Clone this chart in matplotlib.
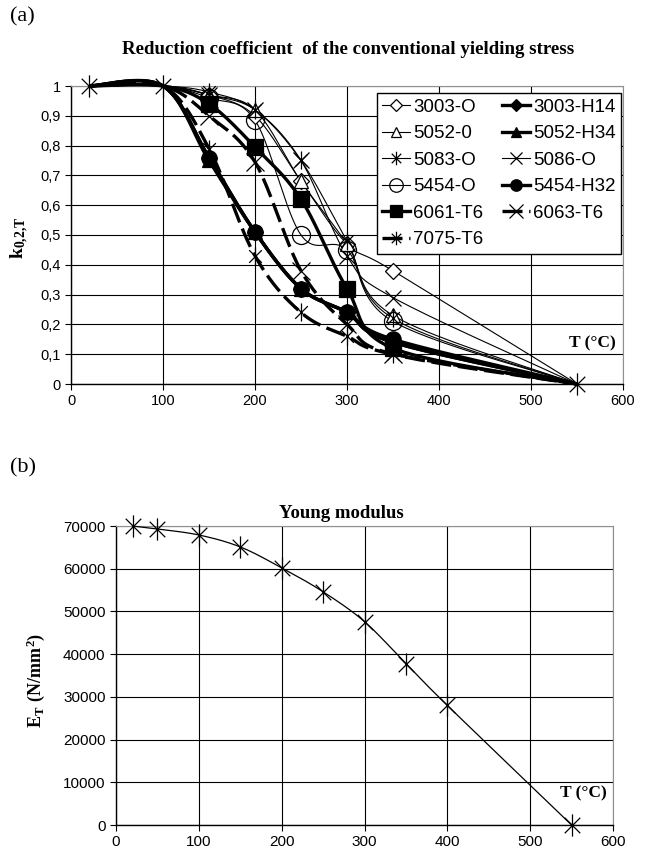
import matplotlib
matplotlib.use("Agg")
import matplotlib.pyplot as plt
from matplotlib.path import Path
from matplotlib.ticker import FuncFormatter, MultipleLocator
import numpy as np

plt.rcParams['font.family'] = ['Liberation Sans', 'DejaVu Sans']
plt.rcParams['mathtext.fontset'] = 'custom'
plt.rcParams['mathtext.rm'] = 'Liberation Serif'
plt.rcParams['mathtext.bf'] = 'Liberation Serif:bold'

# ----------------------- Data --------------------------
temps = [20, 100, 150, 200, 250, 300, 350, 550]
alloys = ['3003-O', '3003-H14', '5052-0', '5052-H34', '5083-O', '5086-O',
          '5454-O', '5454-H32', '6061-T6', '6063-T6', '7075-T6']
k_3003_O = [1, 1, 0.97, 0.90, 0.68, 0.47, 0.38, 0]
k_3003_H14 = [1, 1, 0.76, 0.51, 0.32, 0.24, 0.14, 0]
k_5052_0 = [1, 1, 0.97, 0.92, 0.68, 0.47, 0.23, 0]
k_5052_H34 = [1, 1, 0.75, 0.51, 0.32, 0.24, 0.14, 0]
k_5083_O = [1, 1, 0.98, 0.92, 0.75, 0.48, 0.22, 0]
k_5086_O = [1, 1, 0.97, 0.92, 0.75, 0.43, 0.29, 0]
k_5454_O = [1, 1, 0.96, 0.885, 0.50, 0.45, 0.21, 0]
k_5454_H32 = [1, 1, 0.76, 0.51, 0.32, 0.24, 0.15, 0]
k_6061_T6 = [1, 1, 0.94, 0.795, 0.62, 0.32, 0.12, 0]
k_6063_T6 = [1, 1, 0.90, 0.745, 0.38, 0.20, 0.10, 0]
k_7075_T6 = [1, 1, 0.79, 0.43, 0.24, 0.16, 0.10, 0]
k_values = [k_3003_O, k_3003_H14, k_5052_0, k_5052_H34, k_5083_O, k_5086_O,
            k_5454_O, k_5454_H32, k_6061_T6, k_6063_T6, k_7075_T6]

e_temps = [20, 50, 100, 150, 200, 250, 300, 350, 400, 550]
e_modulus = [70000, 69300, 67900, 65100, 60200, 54600, 47600, 37800, 28000, 0]

# asterisk marker: X with a vertical bar (Excel style)
star = Path([(-0.7, -0.7), (0.7, 0.7), (-0.7, 0.7), (0.7, -0.7), (0, -1), (0, 1)],
            [Path.MOVETO, Path.LINETO, Path.MOVETO, Path.LINETO, Path.MOVETO, Path.LINETO])

thin, thick = 0.8, 2.4
styles = [
    dict(marker='D', ms=8, mfc='white', lw=thin, ls='-'),
    dict(marker='D', ms=8, mfc='black', lw=thick, ls='-'),
    dict(marker='^', ms=10, mfc='white', lw=thin, ls='-'),
    dict(marker='^', ms=10, mfc='black', lw=thick, ls='-'),
    dict(marker=star, ms=13, mfc='none', lw=thin, ls='-'),
    dict(marker='x', ms=12, mfc='none', lw=thin, ls='-'),
    dict(marker='o', ms=13, mfc='none', lw=thin, ls='-'),
    dict(marker='o', ms=11, mfc='black', lw=thick, ls='-'),
    dict(marker='s', ms=12, mfc='black', lw=thick, ls='-'),
    dict(marker='x', ms=13, mfc='none', lw=thick, ls=(0, (6, 2))),
    dict(marker=star, ms=13, mfc='none', lw=thick, ls=(0, (6, 2))),
]


def smooth(x, y, n=24):
    # Excel-like smoothed line (Bezier through the points)
    pts = np.column_stack([x, y]).astype(float)
    P = np.vstack([pts[0], pts, pts[-1]])
    t = np.linspace(0, 1, n)[1:, None]
    out = [pts[:1]]
    for i in range(1, len(P) - 2):
        p0, p1, p2, p3 = P[i - 1], P[i], P[i + 1], P[i + 2]
        c1 = p1 + (p2 - p0) / 6
        c2 = p2 - (p3 - p1) / 6
        out.append((1 - t) ** 3 * p1 + 3 * (1 - t) ** 2 * t * c1
                   + 3 * (1 - t) * t ** 2 * c2 + t ** 3 * p2)
    out = np.vstack(out)
    return out[:, 0], out[:, 1]


def style_axes(ax):
    ax.grid(True, color='black', lw=0.8)
    ax.set_axisbelow(True)
    for s in ['top', 'right']:
        ax.spines[s].set_color('#909090')
        ax.spines[s].set_linewidth(0.8)
    for s in ['left', 'bottom']:
        ax.spines[s].set_linewidth(1.0)
    ax.tick_params(direction='out', length=4, width=0.8, labelsize=10.5,
                   top=False, right=False)


fig = plt.figure(figsize=(6.45, 8.55), dpi=100)

# ----------------------- (a) --------------------------
ax1 = fig.add_axes([71 / 645, 1 - 384 / 855, 552 / 645, 298 / 855])
handles = []
n_series = len(alloys)
for i, (name, vals, st) in enumerate(zip(alloys, k_values, styles)):
    sx, sy = smooth(temps, vals)
    ax1.plot(sx, sy, color='black', lw=st['lw'], ls=st['ls'], clip_on=False,
             solid_capstyle='butt', zorder=3)
    if i == n_series - 1:
        # the last series' marker sits on top at the shared end points
        ends = [0, 1, len(temps) - 1]
        ax1.plot([temps[j] for j in ends], [vals[j] for j in ends], ls='none',
                 marker=st['marker'], ms=16, mec='black', mew=0.9,
                 clip_on=False, zorder=5)
    idx = list(range(2, len(temps) - 1))
    ax1.plot([temps[j] for j in idx], [vals[j] for j in idx], ls='none',
             marker=st['marker'], ms=st['ms'], mfc=st['mfc'], mec='black',
             mew=0.9, clip_on=False, zorder=4)
    h, = ax1.plot([], [], color='black', lw=st['lw'], ls=st['ls'],
                  marker=st['marker'], ms=st['ms'] * 0.75, mfc=st['mfc'],
                  mec='black', mew=0.9)
    handles.append(h)

ax1.set_xlim(0, 600)
ax1.set_ylim(0, 1)
ax1.xaxis.set_major_locator(MultipleLocator(100))
ax1.yaxis.set_major_locator(MultipleLocator(0.1))
ax1.yaxis.set_major_formatter(FuncFormatter(lambda v, p: ('%g' % round(v, 1)).replace('.', ',')))
style_axes(ax1)

# legend reads row by row: left column holds the even entries
order = list(range(0, n_series, 2)) + list(range(1, n_series, 2))
leg = ax1.legend([handles[i] for i in order], [alloys[i] for i in order],
                 ncol=2, loc='upper right', bbox_to_anchor=(0.997, 0.977),
                 fontsize=13.5, frameon=True, fancybox=False,
                 edgecolor='black', framealpha=1, handlelength=1.5,
                 handletextpad=0.15, columnspacing=1.0, labelspacing=0.5,
                 borderpad=0.3, borderaxespad=0.0)
leg.get_frame().set_linewidth(1.0)
leg.set_zorder(6)

ax1.text(567, 0.137, 'T (°C)', family='Liberation Serif', weight='bold',
         fontsize=12.5, ha='center', va='center', zorder=5)
fig.text(20 / 645, 1 - 238 / 855, r'$\mathbf{k_{0{,}2{,}T}}$', rotation=90,
         ha='center', va='center', fontsize=14)
fig.text(348 / 645, 1 - 50 / 855, 'Reduction coefficient  of the conventional yielding stress',
         family='Liberation Serif', weight='bold', fontsize=13.6,
         ha='center', va='center')
fig.text(10 / 645, 1 - 17 / 855, '(a)', family='Liberation Serif',
         fontsize=16, ha='left', va='center')

# ----------------------- (b) --------------------------
ax2 = fig.add_axes([116 / 645, 1 - 825 / 855, 497 / 645, 299 / 855])
ex, ey = smooth(e_temps, e_modulus)
ax2.plot(ex, ey, color='black', lw=0.9, clip_on=False, zorder=3)
ax2.plot(e_temps, e_modulus, ls='none', marker=star, ms=16, mfc='none',
         mec='black', mew=0.9, clip_on=False, zorder=4)
ax2.set_xlim(0, 600)
ax2.set_ylim(0, 70000)
ax2.xaxis.set_major_locator(MultipleLocator(100))
ax2.yaxis.set_major_locator(MultipleLocator(10000))
style_axes(ax2)
ax2.tick_params(labelsize=11)

ax2.text(564, 7400, 'T (°C)', family='Liberation Serif', weight='bold',
         fontsize=12.5, ha='center', va='center', zorder=5)
fig.text(36 / 645, 1 - 680 / 855, r'$\mathbf{E_T\ (N/mm^2)}$', rotation=90,
         ha='center', va='center', fontsize=13)
fig.text(341 / 645, 1 - 513 / 855, 'Young modulus', family='Liberation Serif',
         weight='bold', fontsize=13.5, ha='center', va='center')
fig.text(10 / 645, 1 - 468 / 855, '(b)', family='Liberation Serif',
         fontsize=16, ha='left', va='center')

fig.savefig('out.png', dpi=100)
